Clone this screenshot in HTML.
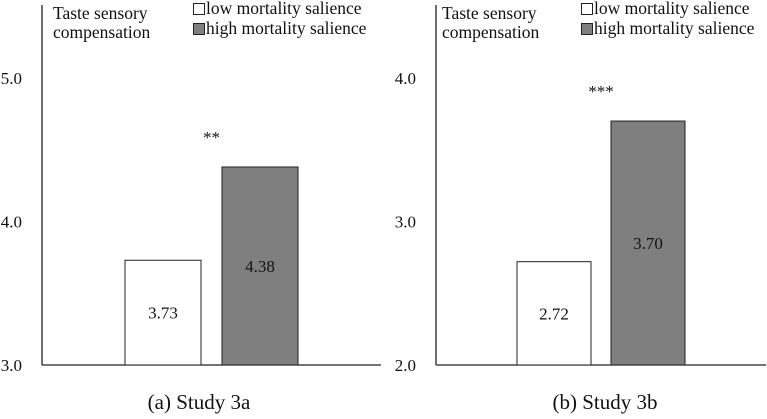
<!DOCTYPE html>
<html><head><meta charset="utf-8"><style>
body{margin:0;background:#fff}
svg text{font-family:"Liberation Serif",serif;fill:#111}
</style></head><body>
<svg width="767" height="414" viewBox="0 0 767 414">
<g id="root"></g>
</svg>
<script>
const panels=["(a) Study 3a","(b) Study 3b"];
const yMins=[3,2];
const yMaxs=[5,4];
const lowValues=[3.73,2.72];
const highValues=[4.38,3.70];
const sigMarks=["**","***"];
const tickLabelsA=["3.0","4.0","5.0"];
const tickLabelsB=["2.0","3.0","4.0"];
const tickLabels=[tickLabelsA,tickLabelsB];
const NS="http://www.w3.org/2000/svg";
const root=document.getElementById('root');
function mk(tag,attrs,parent){const e=document.createElementNS(NS,tag);for(const k in attrs)e.setAttribute(k,attrs[k]);(parent||root).appendChild(e);return e;}
const layout=[{ax:42,tickR:22,b1:125,b2:222,bw:76,right:381,cap:199,title:53,leg:193},
{ax:436,tickR:416,b1:517,b2:611,bw:74,right:766,cap:605,title:442,leg:581}];
const base=365,unit=143.5;
panels.forEach((p,i)=>{
 const L=layout[i];
 const g=mk('g',{});
 
 
 const y=v=>base-(v-yMins[i])*unit;
 const axis=mk('line',{x1:L.ax,y1:5,x2:L.ax,y2:base,stroke:'#222','stroke-width':1.3},g);
 
 
 const xa=mk('line',{x1:L.ax,y1:base,x2:L.right,y2:base,stroke:'#222','stroke-width':1.3},g);
 
 
 tickLabels[i].forEach(t=>{
  const tx=mk('text',{x:L.tickR,y:y(parseFloat(t))+6,'text-anchor':'end','font-size':17},g);
  tx.textContent=t;
  
  
 });
 const r1=mk('rect',{x:L.b1,y:y(lowValues[i]),width:L.bw,height:base-y(lowValues[i]),fill:'#fff',stroke:'#222','stroke-width':1},g);
 
 
 const r2=mk('rect',{x:L.b2,y:y(highValues[i]),width:L.bw,height:base-y(highValues[i]),fill:'#7f7f7f',stroke:'#222','stroke-width':1},g);
 
 
 const v1=mk('text',{x:L.b1+L.bw/2,y:(y(lowValues[i])+base)/2+6,'text-anchor':'middle','font-size':17},g);
 v1.textContent=lowValues[i].toFixed(2);
 
 
 const v2=mk('text',{x:L.b2+L.bw/2,y:(y(highValues[i])+base)/2+6,'text-anchor':'middle','font-size':17},g);
 v2.textContent=highValues[i].toFixed(2);
 
 
 const s=mk('text',{x:(L.b1+L.b2+L.bw)/2,y:y(highValues[i])-24,'text-anchor':'middle','font-size':17},g);
 s.textContent=sigMarks[i];
 
 
 const c=mk('text',{x:L.cap,y:409,'text-anchor':'middle','font-size':21},g);
 c.textContent=p;
 
 
 const t1=mk('text',{x:L.title,y:19,'font-size':17.5},g);
 t1.textContent='Taste sensory';
 
 
 const t2=mk('text',{x:L.title,y:38,'font-size':17.5},g);
 t2.textContent='compensation';
 
 
 const lb1=mk('rect',{x:L.leg+0.5,y:3.5,width:11,height:11,fill:'#fff',stroke:'#222'},g);
 
 
 const lt1=mk('text',{x:L.leg+13,y:14,'font-size':17.5},g);
 lt1.textContent='low mortality salience';
 
 
 const lb2=mk('rect',{x:L.leg+0.5,y:23.5,width:11,height:11,fill:'#7f7f7f',stroke:'#222'},g);
 
 
 const lt2=mk('text',{x:L.leg+13,y:34,'font-size':17.5},g);
 lt2.textContent='high mortality salience';
 
 
});
</script>
</body></html>
